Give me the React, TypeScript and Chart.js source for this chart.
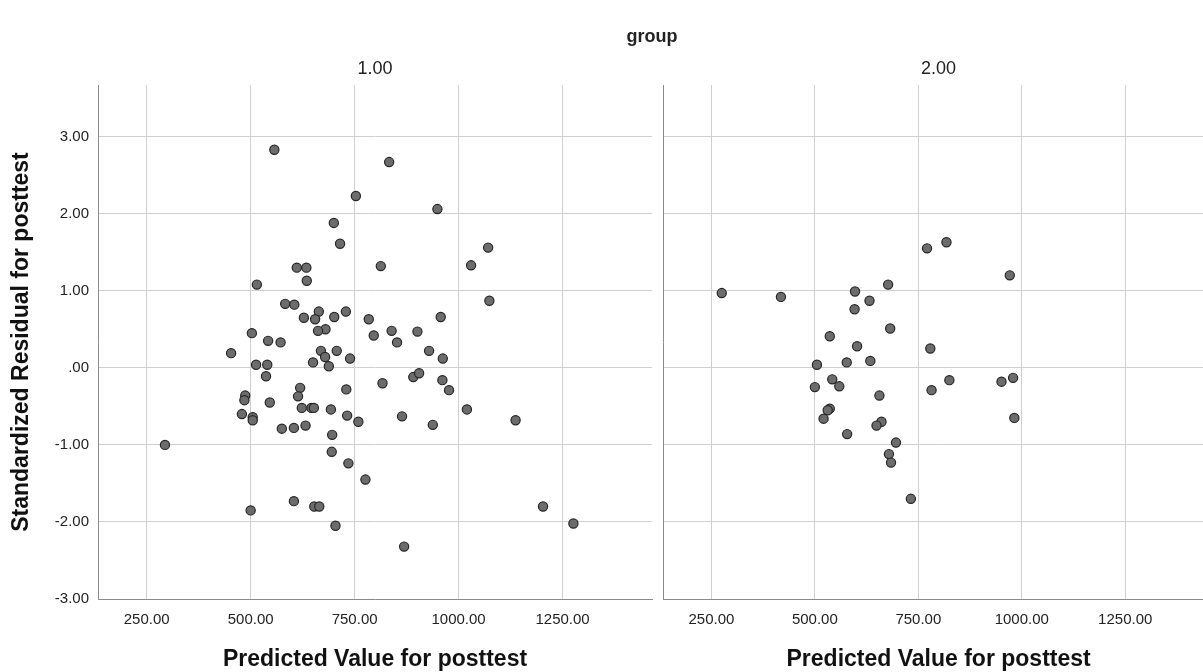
import React, { useEffect, useRef } from "react";
import { Chart, registerables } from "chart.js";

Chart.register(...registerables);

// ---------- data ----------
const facetTitle = "group";
const panelLabels = ["1.00", "2.00"];
const xTitle = "Predicted Value for posttest";
const yTitle = "Standardized Residual for posttest";

const xTicks = [250, 500, 750, 1000, 1250];
const yTicks = [-3, -2, -1, 0, 1, 2, 3];
const X_MIN = 133;
const X_MAX = 1465;
const Y_MIN = -3;
const Y_MAX = 3.67;

const group1X = [
  557, 833, 753, 700, 715, 813, 611, 634, 635, 515, 583, 605, 664, 729, 628, 655, 701, 784, 839, 680,
  662, 796, 503, 542, 572, 453, 669, 679, 707, 739, 650, 688, 513, 540, 949, 1071, 1030, 1074, 957, 901,
  852, 929, 962, 817, 537, 619, 614, 487, 485, 546, 730, 623, 646, 652, 693, 479, 505, 505, 732, 759,
  575, 604, 632, 696, 294, 695, 735, 776, 604, 653, 665, 500, 704, 891, 905, 961, 977, 1020, 1137, 864,
  938, 1203, 1276, 869,
];
const group1Y = [
  2.83, 2.67, 2.23, 1.88, 1.61, 1.32, 1.3, 1.3, 1.13, 1.08, 0.83, 0.82, 0.73, 0.73, 0.65, 0.63, 0.66, 0.63, 0.48, 0.5,
  0.48, 0.42, 0.45, 0.35, 0.33, 0.19, 0.22, 0.14, 0.22, 0.12, 0.07, 0.02, 0.04, 0.04, 2.06, 1.56, 1.33, 0.87, 0.66, 0.47,
  0.33, 0.22, 0.12, -0.2, -0.11, -0.26, -0.37, -0.36, -0.42, -0.45, -0.28, -0.52, -0.52, -0.52, -0.54, -0.6, -0.64, -0.68, -0.62, -0.7,
  -0.79, -0.78, -0.75, -0.87, -1.0, -1.09, -1.24, -1.45, -1.73, -1.8, -1.8, -1.85, -2.05, -0.12, -0.07, -0.16, -0.29, -0.54, -0.68, -0.63,
  -0.74, -1.8, -2.02, -2.32,
];

const group2X = [
  771, 677, 275, 418, 597, 632, 596, 682, 536, 602, 779, 505, 577, 634, 542, 559, 500, 782, 656, 536,
  531, 521, 661, 649, 578, 696, 679, 684, 732, 818, 971, 825, 951, 979, 982,
];
const group2Y = [
  1.55, 1.08, 0.97, 0.92, 0.99, 0.87, 0.76, 0.51, 0.41, 0.28, 0.25, 0.04, 0.07, 0.09, -0.15, -0.24, -0.25, -0.29, -0.36, -0.53,
  -0.55, -0.66, -0.7, -0.75, -0.86, -0.97, -1.12, -1.23, -1.7, 1.63, 1.2, -0.16, -0.18, -0.13, -0.65,
];

// ---------- layout ----------
const W = 1220;
const H = 672;
const FONT = "'Liberation Sans', Arial, sans-serif";
const panels = [
  { left: 98, right: 652, xs: group1X, ys: group1Y, label: panelLabels[0], showY: true, drawFacet: true },
  { left: 663, right: 1217, xs: group2X, ys: group2Y, label: panelLabels[1], showY: false, drawFacet: false },
];

function makeHeaderPlugin(label: string, drawFacet: boolean) {
  return {
    id: "panelHeader",
    afterDraw(chart: any) {
      const { ctx, chartArea } = chart;
      ctx.save();
      ctx.fillStyle = "#222";
      ctx.textAlign = "center";
      ctx.textBaseline = "middle";
      ctx.font = `18px ${FONT}`;
      ctx.fillText(label, (chartArea.left + chartArea.right) / 2, 69);
      if (drawFacet) {
        ctx.font = `bold 18px ${FONT}`;
        ctx.fillText(facetTitle, 652, 37);
      }
      ctx.restore();
    },
  };
}

function makeConfig(p: (typeof panels)[number]): any {
  return {
    type: "scatter",
    data: {
      datasets: [
        {
          data: p.xs.map((x, i) => ({ x, y: p.ys[i] })),
          pointRadius: 4.6,
          pointHoverRadius: 4.6,
          pointBorderWidth: 1.2,
          pointBackgroundColor: "#6c6c6c",
          pointBorderColor: "#262626",
        },
      ],
    },
    options: {
      responsive: false,
      animation: false,
      events: [],
      layout: { padding: { top: 85, bottom: 0, left: 0, right: W - p.right } },
      plugins: {
        legend: { display: false },
        tooltip: { enabled: false },
        title: { display: false },
      },
      scales: {
        x: {
          type: "linear",
          position: "bottom",
          min: X_MIN,
          max: X_MAX,
          afterBuildTicks: (s: any) => {
            s.ticks = xTicks.map((v) => ({ value: v }));
          },
          afterFit: (s: any) => {
            s.height = H - 599;
          },
          grid: { color: "#cfcfcf", lineWidth: 1, drawTicks: false },
          border: { color: "#8a8a8a", width: 1 },
          ticks: {
            font: { family: FONT, size: 15 },
            color: "#222",
            padding: 12,
            maxRotation: 0,
            minRotation: 0,
            autoSkip: false,
            callback: (v: any) => Number(v).toFixed(2),
          },
          title: {
            display: true,
            text: xTitle,
            color: "#111",
            font: { family: FONT, size: 23, weight: "bold", lineHeight: 1 },
            padding: { top: 0, bottom: 0.5 },
          },
        },
        y: {
          type: "linear",
          position: "left",
          min: Y_MIN,
          max: Y_MAX,
          afterBuildTicks: (s: any) => {
            s.ticks = yTicks.map((v) => ({ value: v }));
          },
          afterFit: (s: any) => {
            s.width = p.left;
          },
          grid: { color: "#cfcfcf", lineWidth: 1, drawTicks: false },
          border: { color: "#8a8a8a", width: 1 },
          ticks: {
            display: p.showY,
            font: { family: FONT, size: 15 },
            color: "#222",
            padding: 9,
            callback: (v: any) => (Number(v) === 0 ? ".00" : Number(v).toFixed(2)),
          },
          title: {
            display: p.showY,
            text: yTitle,
            color: "#111",
            font: { family: FONT, size: 23, weight: "bold", lineHeight: 1 },
            padding: { top: 10.5, bottom: 0 },
          },
        },
      },
    },
    plugins: [makeHeaderPlugin(p.label, p.drawFacet)],
  };
}

function Panel({ index }: { index: number }) {
  const ref = useRef<HTMLCanvasElement | null>(null);
  useEffect(() => {
    if (!ref.current) return;
    const chart = new Chart(ref.current, makeConfig(panels[index]));
    return () => chart.destroy();
  }, [index]);
  return (
    <canvas
      ref={ref}
      width={W}
      height={H}
      style={{ position: "absolute", left: 0, top: 0, width: W, height: H }}
    />
  );
}

export default function App() {
  return (
    <div
      style={{
        position: "fixed",
        left: 0,
        top: 0,
        width: 1203,
        height: 672,
        overflow: "hidden",
        background: "#ffffff",
      }}
    >
      <Panel index={0} />
      <Panel index={1} />
    </div>
  );
}
